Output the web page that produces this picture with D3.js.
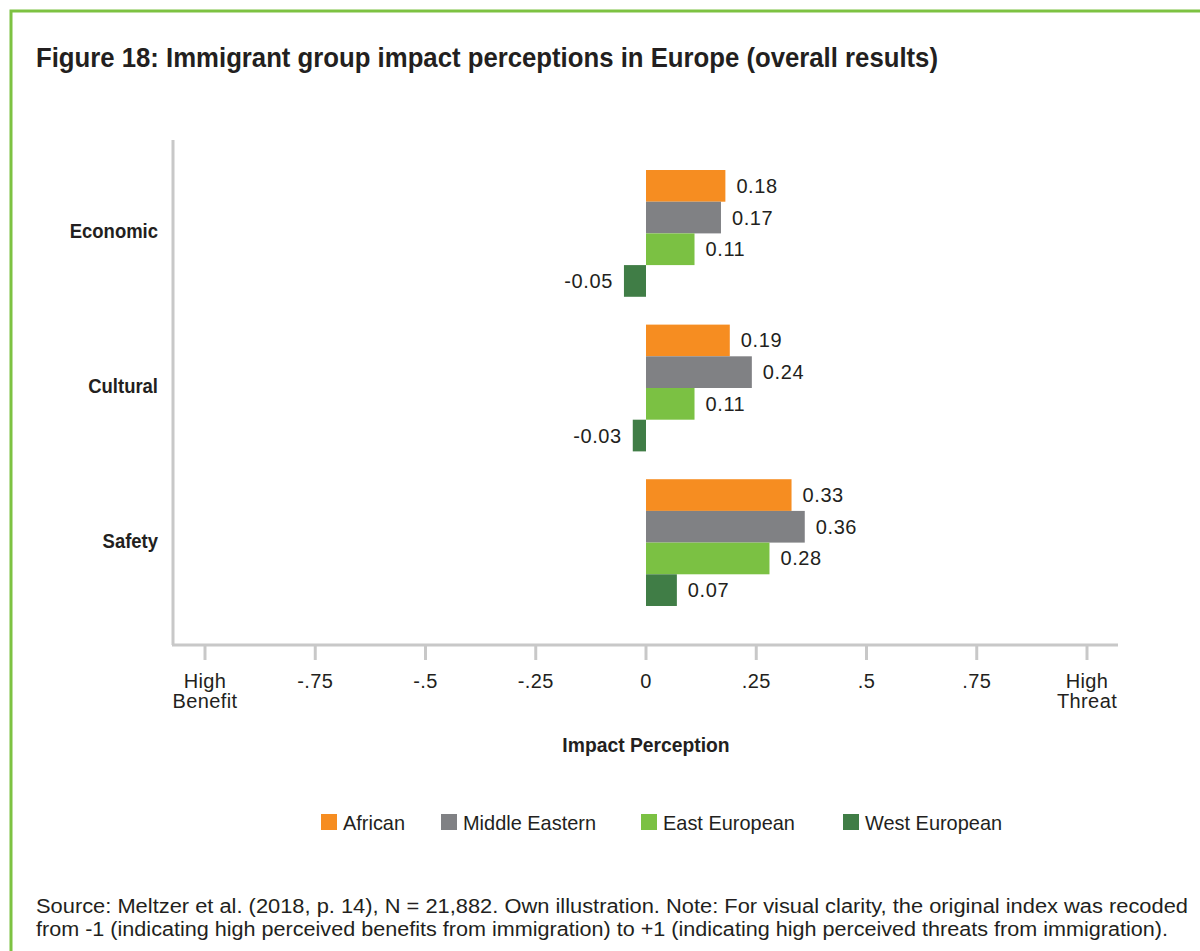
<!DOCTYPE html>
<html>
<head>
<meta charset="utf-8">
<script src="https://cdn.jsdelivr.net/npm/d3@7"></script>
<style>
  body { margin: 0; background: #fff; }
  svg text { fill: #231f20; }
</style>
</head>
<body>
<div id="chart"></div>
<script>
const width = 1200
const height = 951

// data
const categories = ["Economic", "Cultural", "Safety"]
const groups = ["African", "Middle Eastern", "East European", "West European"]
const african = [0.18, 0.19, 0.33]
const middleEastern = [0.17, 0.24, 0.36]
const eastEuropean = [0.11, 0.11, 0.28]
const westEuropean = [-0.05, -0.03, 0.07]
const tickValues = [-1, -0.75, -0.5, -0.25, 0, 0.25, 0.5, 0.75, 1]
const tickLabels = [["High", "Benefit"], ["-.75"], ["-.5"], ["-.25"], ["0"], [".25"], [".5"], [".75"], ["High", "Threat"]]

const colors = ["#f68d21", "#808184", "#7bc143", "#407d46"]
const seriesValues = [african, middleEastern, eastEuropean, westEuropean]

const font = "'Liberation Sans', Arial, sans-serif"
const fmt = d3.formatLocale({ decimal: ".", thousands: ",", grouping: [3], currency: ["", ""], minus: "-" }).format(".2f")

// no narrow font available, so squeeze text horizontally
function condensed(sel, x, y, k) {
  return sel.attr("transform", `translate(${x},${y}) scale(${k},1)`)
}

const svg = d3.select("#chart")
              .append("svg")
              .attr("width", width)
              .attr("height", height)

// green frame (open at right / bottom like the cropped original)
svg.append("path")
   .attr("d", "M11,951 V11 H1200")
   .attr("fill", "none")
   .attr("stroke", "#7dc242")
   .attr("stroke-width", 3)

svg.append("text")
   .attr("x", 36)
   .attr("y", 67)
   .attr("textLength", 902)
   .attr("lengthAdjust", "spacingAndGlyphs")
   .style("font-family", font)
   .style("font-weight", "bold")
   .style("font-size", "28px")
   .text("Figure 18: Immigrant group impact perceptions in Europe (overall results)")

const x = d3.scaleLinear()
            .domain([-1, 1])
            .range([205, 1087])

const y = d3.scaleBand()
            .domain(categories)
            .range([136, 640])
            .paddingInner(0.18)
            .paddingOuter(0.22)

const ySub = d3.scaleBand()
               .domain(groups)
               .range([0, y.bandwidth()])

const axisColor = "#c8c8c8"
const axisY = 645

// axes lines
svg.append("line")
   .attr("x1", 173).attr("x2", 173)
   .attr("y1", 140).attr("y2", axisY)
   .attr("stroke", axisColor)
   .attr("stroke-width", 3)

svg.append("line")
   .attr("x1", 172).attr("x2", 1118)
   .attr("y1", axisY).attr("y2", axisY)
   .attr("stroke", axisColor)
   .attr("stroke-width", 3)

const ticks = svg.append("g")
                 .selectAll("g")
                 .data(tickValues)
                 .enter()
                 .append("g")
                 .attr("transform", d => `translate(${x(d)},${axisY})`)

ticks.append("line")
     .attr("y1", 0).attr("y2", 15)
     .attr("stroke", axisColor)
     .attr("stroke-width", 3)

ticks.append("text")
     .attr("text-anchor", "middle")
     .style("font-family", font)
     .style("font-size", "20px")
     .style("letter-spacing", "0.4px")
     .selectAll("tspan")
     .data((d, i) => tickLabels[i])
     .enter()
     .append("tspan")
     .attr("x", 0)
     .attr("y", (d, i) => 43 + i * 20)
     .text(d => d)

svg.append("text")
   .call(condensed, 646, 752, 0.92)
   .attr("text-anchor", "middle")
   .style("font-family", font)
   .style("font-weight", "bold")
   .style("font-size", "21px")
   .text("Impact Perception")

// category labels
svg.append("g")
   .selectAll("text")
   .data(categories)
   .enter()
   .append("text")
   .each(function(d) { condensed(d3.select(this), 158, y(d) + y.bandwidth() / 2 + 5, 0.88) })
   .attr("text-anchor", "end")
   .style("font-family", font)
   .style("font-weight", "bold")
   .style("font-size", "21px")
   .text(d => d)

// bars
const rows = []
categories.forEach((c, ci) => {
  groups.forEach((g, gi) => {
    rows.push({ category: c, group: g, value: seriesValues[gi][ci], color: colors[gi] })
  })
})

const bars = svg.append("g")
                .selectAll("g")
                .data(rows)
                .enter()
                .append("g")
                .attr("transform", d => `translate(0,${y(d.category) + ySub(d.group)})`)

bars.append("rect")
    .attr("x", d => x(Math.min(0, d.value)))
    .attr("width", d => Math.abs(x(d.value) - x(0)))
    .attr("height", ySub.bandwidth())
    .attr("fill", d => d.color)

bars.append("text")
    .attr("x", d => d.value >= 0 ? x(d.value) + 11 : x(d.value) - 11)
    .attr("y", ySub.bandwidth() / 2 + 7)
    .attr("text-anchor", d => d.value >= 0 ? "start" : "end")
    .style("font-family", font)
    .style("font-size", "20px")
    .style("letter-spacing", "0.6px")
    .text(d => fmt(d.value))

// legend
const legendX = [321, 441, 641, 843]
const legend = svg.append("g")
                  .selectAll("g")
                  .data(groups)
                  .enter()
                  .append("g")
                  .attr("transform", (d, i) => `translate(${legendX[i]},814)`)

legend.append("rect")
      .attr("width", 16)
      .attr("height", 16)
      .attr("fill", (d, i) => colors[i])

legend.append("text")
      .call(condensed, 22, 16, 0.95)
      .style("font-family", font)
      .style("font-size", "21px")
      .text(d => d)

// source note
const notes = [
  "Source: Meltzer et al. (2018, p. 14), N = 21,882. Own illustration. Note: For visual clarity, the original index was recoded",
  "from -1 (indicating high perceived benefits from immigration) to +1 (indicating high perceived threats from immigration)."
]
const noteWidths = [1152, 1132]

svg.append("g")
   .selectAll("text")
   .data(notes)
   .enter()
   .append("text")
   .attr("x", 36)
   .attr("y", (d, i) => 913 + i * 23)
   .attr("textLength", (d, i) => noteWidths[i])
   .attr("lengthAdjust", "spacingAndGlyphs")
   .style("font-family", font)
   .style("font-size", "20px")
   .text(d => d)
</script>
</body>
</html>
